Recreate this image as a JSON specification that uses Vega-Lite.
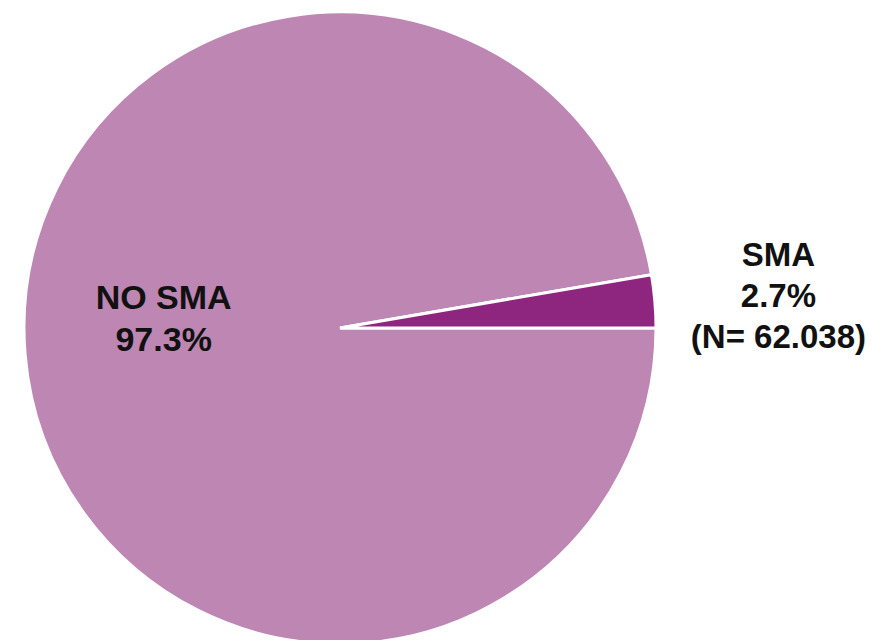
{
  "$schema": "https://vega.github.io/schema/vega-lite/v6.json",
  "autosize": "none",
  "width": 680,
  "height": 624,
  "padding": {"left": 0, "right": 192, "top": 16, "bottom": 0},
  "background": "white",
  "view": {"stroke": null},
  "data": {
    "values": [
      {"group": "NO SMA", "share": 97.3, "label": ["NO SMA", "97.3%"]},
      {"group": "SMA", "share": 2.7, "label": ["SMA", "2.7%", "(N= 62.038)"]}
    ]
  },
  "encoding": {
    "theta": {"field": "share", "type": "quantitative", "stack": true, "scale": {"range": [1.40115, 7.68434]}},
    "order": {"field": "share", "sort": "ascending"}
  },
  "layer": [
    {
      "mark": {"type": "arc", "radius": 316, "stroke": "white", "strokeWidth": 3},
      "encoding": {
        "color": {"field": "group", "type": "nominal", "scale": {"domain": ["NO SMA", "SMA"], "range": ["#BD86B3", "#8E2680"]}, "legend": null}
      }
    },
    {
      "mark": {"type": "text", "radius": 185, "dx": 8, "dy": -45, "align": "center", "baseline": "middle", "font": "Liberation Sans", "fontWeight": "bold", "fontSize": 34, "lineHeight": 42, "color": "#111111"},
      "encoding": {"text": {"condition": {"test": "datum.group === 'NO SMA'", "field": "label"}, "value": ""}}
    },
    {
      "mark": {"type": "text", "radius": 440, "dy": -35, "align": "center", "baseline": "middle", "font": "Liberation Sans", "fontWeight": "bold", "fontSize": 33, "lineHeight": 41, "color": "#111111"},
      "encoding": {"text": {"condition": {"test": "datum.group === 'SMA'", "field": "label"}, "value": ""}}
    }
  ]
}
